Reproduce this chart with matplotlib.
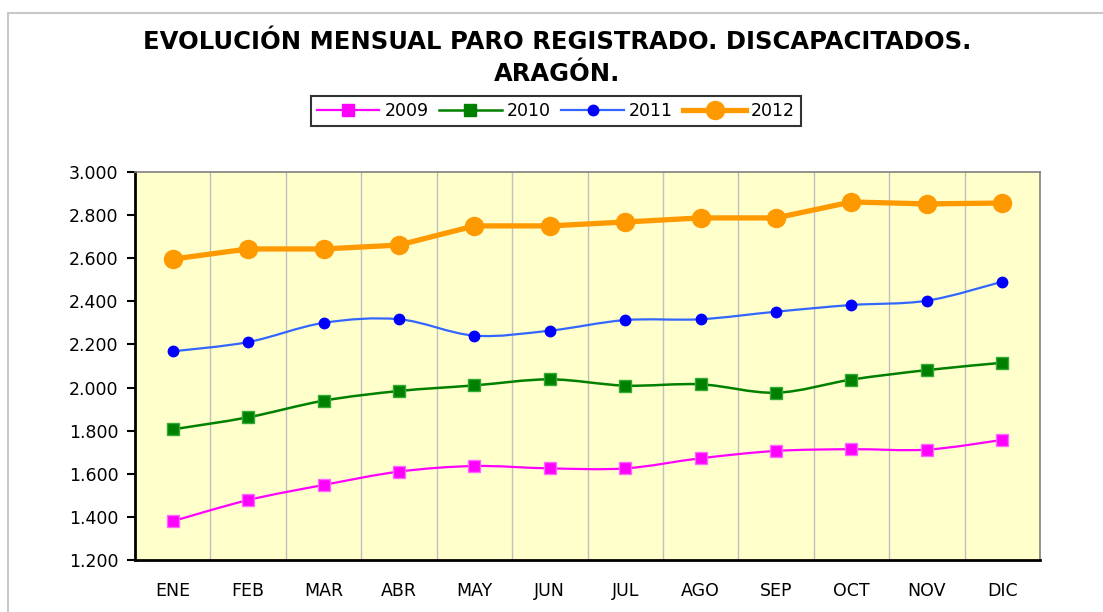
import numpy as np
import matplotlib.pyplot as plt
from matplotlib.path import Path
from matplotlib.patches import PathPatch, Rectangle
from matplotlib.lines import Line2D
from matplotlib.ticker import FuncFormatter, MultipleLocator

meses = ['ENE', 'FEB', 'MAR', 'ABR', 'MAY', 'JUN', 'JUL', 'AGO', 'SEP', 'OCT', 'NOV', 'DIC']
paro_2009 = [1380, 1478, 1548, 1610, 1636, 1625, 1625, 1672, 1706, 1714, 1712, 1757]
paro_2010 = [1806, 1862, 1939, 1984, 2010, 2038, 2009, 2015, 1976, 2037, 2081, 2115]
paro_2011 = [2168, 2211, 2300, 2317, 2241, 2264, 2313, 2317, 2352, 2383, 2403, 2491]
paro_2012 = [2596, 2643, 2643, 2661, 2750, 2750, 2768, 2787, 2787, 2861, 2852, 2856]


def curva_suave(ax, xs, ys, color, lw):
    # linea suavizada tipo Excel (bezier entre los puntos)
    p = np.column_stack([xs, ys]).astype(float)
    n = len(p)
    verts = [p[0]]
    codes = [Path.MOVETO]
    for i in range(n - 1):
        p0 = p[i - 1] if i > 0 else p[i]
        p3 = p[i + 2] if i + 2 < n else p[i + 1]
        c1 = p[i] + (p[i + 1] - p0) / 6.0
        c2 = p[i + 1] - (p3 - p[i]) / 6.0
        verts += [c1, c2, p[i + 1]]
        codes += [Path.CURVE4] * 3
    ax.add_patch(PathPatch(Path(verts, codes), fill=False, edgecolor=color, lw=lw, zorder=3))


fig = plt.figure(figsize=(11.03, 6.12), dpi=100)
fig.patch.set_facecolor('white')
fig.patches.append(Rectangle((8 / 1103, -0.1), 1.2, 1 - 13 / 612 + 0.1, transform=fig.transFigure,
                             fill=False, edgecolor='#c8c8c8', lw=1.5))

ax = fig.add_axes([135 / 1103, 52 / 612, 905 / 1103, 388 / 612])
ax.set_facecolor('#FFFFCC')
x = np.arange(len(meses))

curva_suave(ax, x, paro_2009, '#FF00FF', 1.6)
curva_suave(ax, x, paro_2010, '#008000', 1.8)
curva_suave(ax, x, paro_2011, '#3366FF', 1.6)
ax.plot(x, paro_2009, ls='none', marker='s', ms=8, color='#FF00FF', mec='#FF66FF', zorder=4)
ax.plot(x, paro_2010, ls='none', marker='s', ms=8, color='#008000', mec='#33AA33', zorder=4)
ax.plot(x, paro_2011, ls='none', marker='o', ms=7.5, color='#0000FF', zorder=4)
ax.plot(x, paro_2012, '-', marker='o', ms=13, lw=3.8, color='#FF9900', zorder=5)

ax.set_xlim(-0.5, 11.5)
ax.set_ylim(1200, 3000)
ax.yaxis.set_major_locator(MultipleLocator(200))
ax.yaxis.set_major_formatter(FuncFormatter(lambda v, p: f'{v/1000:.3f}'))
ax.set_xticks(x)
ax.set_xticklabels(meses)
ax.set_xticks(np.arange(0.5, 11, 1), minor=True)
ax.grid(True, which='minor', axis='x', color='#c0c0c0', lw=1)
ax.tick_params(axis='x', which='both', length=0, labelsize=12.5, pad=16)
ax.tick_params(axis='y', length=6, width=1.5, direction='out', labelsize=12.5, pad=6)

ax.spines['left'].set_linewidth(2)
ax.spines['bottom'].set_linewidth(2)
ax.spines['top'].set_color('#808080')
ax.spines['right'].set_color('#808080')
ax.spines['top'].set_linewidth(1.2)
ax.spines['right'].set_linewidth(1.2)

fig.text(557 / 1103, 1 - 58 / 612, 'EVOLUCIÓN MENSUAL PARO REGISTRADO. DISCAPACITADOS.\nARAGÓN.',
         ha='center', va='center', fontsize=17.5, fontweight='bold', linespacing=1.4)

handles = [
    Line2D([], [], color='#FF00FF', lw=1.6, marker='s', ms=8),
    Line2D([], [], color='#008000', lw=1.8, marker='s', ms=8),
    Line2D([], [], color='#3366FF', lw=1.6, marker='o', ms=7.5, mfc='#0000FF', mec='#0000FF'),
    Line2D([], [], color='#FF9900', lw=3.8, marker='o', ms=13),
]
leg = fig.legend(handles, ['2009', '2010', '2011', '2012'], loc='center',
                 bbox_to_anchor=(556 / 1103, 1 - 111 / 612), ncol=4, fontsize=12.5,
                 frameon=True, fancybox=False, edgecolor='black', handlelength=3.6,
                 columnspacing=0.6, handletextpad=0.3, borderpad=0.35)
leg.get_frame().set_linewidth(1.5)

fig.savefig('out.png', dpi=100)
